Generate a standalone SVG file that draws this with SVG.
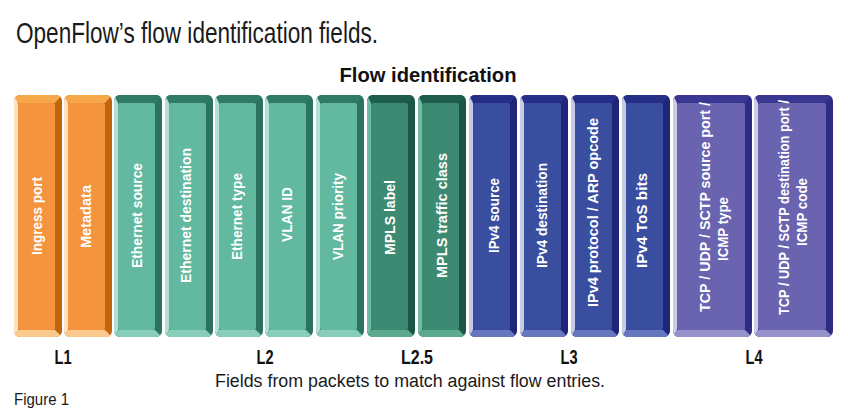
<svg xmlns="http://www.w3.org/2000/svg" width="848" height="418" viewBox="0 0 848 418">
<style>
text{font-family:"Liberation Sans",Arial,sans-serif}
.bt{fill:#fff;font-weight:bold;font-size:15px;text-anchor:middle}
.lv{fill:#111;font-weight:bold;font-size:20px;text-anchor:middle}
.orange .o{fill:#c1660f}.orange .t{fill:#f6a84b}.orange .l{fill:#fde2c2}.orange .b{fill:#fcca8c}.orange .f{fill:#f5943f}
.green .o{fill:#2c735f}.green .t{fill:#2f7b65}.green .l{fill:#b4e0d3}.green .b{fill:#88ceb9}.green .f{fill:#62b99f}
.dgreen .o{fill:#1a5545}.dgreen .t{fill:#1e5c4b}.dgreen .l{fill:#6cbba3}.dgreen .b{fill:#5ba98f}.dgreen .f{fill:#3c8a72}
.blue .o{fill:#1f2578}.blue .t{fill:#272e88}.blue .l{fill:#c6cae7}.blue .b{fill:#6677bf}.blue .f{fill:#3a4ea0}
.purple .o{fill:#2e2b85}.purple .t{fill:#3a3792}.purple .l{fill:#cdcbea}.purple .b{fill:#9791cc}.purple .f{fill:#6963b0}
</style>
<defs>
<clipPath id="cn"><rect x="0" y="95" width="48" height="242" rx="6"/></clipPath>
<clipPath id="cw"><rect x="0" y="95" width="79" height="242" rx="6"/></clipPath>
</defs>
<rect width="848" height="418" fill="#fff"/>
<text x="16" y="43" font-size="29" fill="#1a1a1a" textLength="362" lengthAdjust="spacingAndGlyphs">OpenFlow’s flow identification fields.</text>
<text x="428" y="82" font-size="20" font-weight="bold" fill="#111" text-anchor="middle" textLength="177" lengthAdjust="spacingAndGlyphs">Flow identification</text>

<g id="ingress-port" class="orange"><g transform="translate(14,0)" clip-path="url(#cn)"><rect class="o" y="95" width="48" height="242"/><polygon class="t" points="0,95 48,95 41,103 4,103"/><polygon class="l" points="0,95 4,103 4,330 0,337"/><polygon class="b" points="0,337 4,330 41,330 48,337"/><rect class="f" x="4" y="103" width="37" height="227" rx="2"/></g>
<text class="bt" transform="translate(37,216) rotate(-90)" y="5" textLength="78" lengthAdjust="spacingAndGlyphs">Ingress port</text></g>
<g id="metadata" class="orange"><g transform="translate(64,0)" clip-path="url(#cn)"><rect class="o" y="95" width="48" height="242"/><polygon class="t" points="0,95 48,95 41,103 4,103"/><polygon class="l" points="0,95 4,103 4,330 0,337"/><polygon class="b" points="0,337 4,330 41,330 48,337"/><rect class="f" x="4" y="103" width="37" height="227" rx="2"/></g>
<text class="bt" transform="translate(86,216.5) rotate(-90)" y="5" textLength="63" lengthAdjust="spacingAndGlyphs">Metadata</text></g>
<g id="ethernet-source" class="green"><g transform="translate(114,0)" clip-path="url(#cn)"><rect class="o" y="95" width="48" height="242"/><polygon class="t" points="0,95 48,95 41,103 4,103"/><polygon class="l" points="0,95 4,103 4,330 0,337"/><polygon class="b" points="0,337 4,330 41,330 48,337"/><rect class="f" x="4" y="103" width="37" height="227" rx="2"/></g>
<text class="bt" transform="translate(137,215.5) rotate(-90)" y="5" textLength="105" lengthAdjust="spacingAndGlyphs">Ethernet source</text></g>
<g id="ethernet-destination" class="green"><g transform="translate(165,0)" clip-path="url(#cn)"><rect class="o" y="95" width="48" height="242"/><polygon class="t" points="0,95 48,95 41,103 4,103"/><polygon class="l" points="0,95 4,103 4,330 0,337"/><polygon class="b" points="0,337 4,330 41,330 48,337"/><rect class="f" x="4" y="103" width="37" height="227" rx="2"/></g>
<text class="bt" transform="translate(186,215.5) rotate(-90)" y="5" textLength="135" lengthAdjust="spacingAndGlyphs">Ethernet destination</text></g>
<g id="ethernet-type" class="green"><g transform="translate(215,0)" clip-path="url(#cn)"><rect class="o" y="95" width="48" height="242"/><polygon class="t" points="0,95 48,95 41,103 4,103"/><polygon class="l" points="0,95 4,103 4,330 0,337"/><polygon class="b" points="0,337 4,330 41,330 48,337"/><rect class="f" x="4" y="103" width="37" height="227" rx="2"/></g>
<text class="bt" transform="translate(237,216.5) rotate(-90)" y="5" textLength="87" lengthAdjust="spacingAndGlyphs">Ethernet type</text></g>
<g id="vlan-id" class="green"><g transform="translate(265,0)" clip-path="url(#cn)"><rect class="o" y="95" width="48" height="242"/><polygon class="t" points="0,95 48,95 41,103 4,103"/><polygon class="l" points="0,95 4,103 4,330 0,337"/><polygon class="b" points="0,337 4,330 41,330 48,337"/><rect class="f" x="4" y="103" width="37" height="227" rx="2"/></g>
<text class="bt" transform="translate(287,214.5) rotate(-90)" y="5" textLength="55" lengthAdjust="spacingAndGlyphs">VLAN ID</text></g>
<g id="vlan-priority" class="green"><g transform="translate(316,0)" clip-path="url(#cn)"><rect class="o" y="95" width="48" height="242"/><polygon class="t" points="0,95 48,95 41,103 4,103"/><polygon class="l" points="0,95 4,103 4,330 0,337"/><polygon class="b" points="0,337 4,330 41,330 48,337"/><rect class="f" x="4" y="103" width="37" height="227" rx="2"/></g>
<text class="bt" transform="translate(338,216.5) rotate(-90)" y="5" textLength="87" lengthAdjust="spacingAndGlyphs">VLAN priority</text></g>
<g id="mpls-label" class="dgreen"><g transform="translate(367,0)" clip-path="url(#cn)"><rect class="o" y="95" width="48" height="242"/><polygon class="t" points="0,95 48,95 41,103 4,103"/><polygon class="l" points="0,95 4,103 4,330 0,337"/><polygon class="b" points="0,337 4,330 41,330 48,337"/><rect class="f" x="4" y="103" width="37" height="227" rx="2"/></g>
<text class="bt" transform="translate(390,217.5) rotate(-90)" y="5" textLength="75" lengthAdjust="spacingAndGlyphs">MPLS label</text></g>
<g id="mpls-traffic-class" class="dgreen"><g transform="translate(418,0)" clip-path="url(#cn)"><rect class="o" y="95" width="48" height="242"/><polygon class="t" points="0,95 48,95 41,103 4,103"/><polygon class="l" points="0,95 4,103 4,330 0,337"/><polygon class="b" points="0,337 4,330 41,330 48,337"/><rect class="f" x="4" y="103" width="37" height="227" rx="2"/></g>
<text class="bt" transform="translate(442,215.5) rotate(-90)" y="5" textLength="125" lengthAdjust="spacingAndGlyphs">MPLS traffic class</text></g>
<g id="ipv4-source" class="blue"><g transform="translate(469,0)" clip-path="url(#cn)"><rect class="o" y="95" width="48" height="242"/><polygon class="t" points="0,95 48,95 41,103 4,103"/><polygon class="l" points="0,95 4,103 4,330 0,337"/><polygon class="b" points="0,337 4,330 41,330 48,337"/><rect class="f" x="4" y="103" width="37" height="227" rx="2"/></g>
<text class="bt" transform="translate(494,215.5) rotate(-90)" y="5" textLength="75" lengthAdjust="spacingAndGlyphs">IPv4 source</text></g>
<g id="ipv4-destination" class="blue"><g transform="translate(520,0)" clip-path="url(#cn)"><rect class="o" y="95" width="48" height="242"/><polygon class="t" points="0,95 48,95 41,103 4,103"/><polygon class="l" points="0,95 4,103 4,330 0,337"/><polygon class="b" points="0,337 4,330 41,330 48,337"/><rect class="f" x="4" y="103" width="37" height="227" rx="2"/></g>
<text class="bt" transform="translate(542,215.5) rotate(-90)" y="5" textLength="105" lengthAdjust="spacingAndGlyphs">IPv4 destination</text></g>
<g id="ipv4-protocol" class="blue"><g transform="translate(571,0)" clip-path="url(#cn)"><rect class="o" y="95" width="48" height="242"/><polygon class="t" points="0,95 48,95 41,103 4,103"/><polygon class="l" points="0,95 4,103 4,330 0,337"/><polygon class="b" points="0,337 4,330 41,330 48,337"/><rect class="f" x="4" y="103" width="37" height="227" rx="2"/></g>
<text class="bt" transform="translate(593,212.5) rotate(-90)" y="5" textLength="189" lengthAdjust="spacingAndGlyphs">IPv4 protocol / ARP opcode</text></g>
<g id="ipv4-tos" class="blue"><g transform="translate(622,0)" clip-path="url(#cn)"><rect class="o" y="95" width="48" height="242"/><polygon class="t" points="0,95 48,95 41,103 4,103"/><polygon class="l" points="0,95 4,103 4,330 0,337"/><polygon class="b" points="0,337 4,330 41,330 48,337"/><rect class="f" x="4" y="103" width="37" height="227" rx="2"/></g>
<text class="bt" transform="translate(642,220.5) rotate(-90)" y="5" textLength="95" lengthAdjust="spacingAndGlyphs">IPv4 ToS bits</text></g>
<g id="l4-source" class="purple"><g transform="translate(673,0)" clip-path="url(#cw)"><rect class="o" y="95" width="79" height="242"/><polygon class="t" points="0,95 79,95 72,103 4,103"/><polygon class="l" points="0,95 4,103 4,330 0,337"/><polygon class="b" points="0,337 4,330 72,330 79,337"/><rect class="f" x="4" y="103" width="68" height="227" rx="2"/></g>
<text class="bt" transform="translate(705,207) rotate(-90)" y="5" textLength="210" lengthAdjust="spacingAndGlyphs">TCP / UDP / SCTP source port /</text>
<text class="bt" transform="translate(723,229) rotate(-90)" y="5" textLength="64" lengthAdjust="spacingAndGlyphs">ICMP type</text></g>
<g id="l4-destination" class="purple"><g transform="translate(754,0)" clip-path="url(#cw)"><rect class="o" y="95" width="79" height="242"/><polygon class="t" points="0,95 79,95 72,103 4,103"/><polygon class="l" points="0,95 4,103 4,330 0,337"/><polygon class="b" points="0,337 4,330 72,330 79,337"/><rect class="f" x="4" y="103" width="68" height="227" rx="2"/></g>
<text class="bt" transform="translate(784,207.5) rotate(-90)" y="5" textLength="215" lengthAdjust="spacingAndGlyphs">TCP / UDP / SCTP destination port /</text>
<text class="bt" transform="translate(802,212) rotate(-90)" y="5" textLength="68" lengthAdjust="spacingAndGlyphs">ICMP code</text></g>

<g id="levels">
<text class="lv" x="63" y="364" textLength="17" lengthAdjust="spacingAndGlyphs">L1</text>
<text class="lv" x="265" y="364" textLength="17" lengthAdjust="spacingAndGlyphs">L2</text>
<text class="lv" x="417" y="364" textLength="32" lengthAdjust="spacingAndGlyphs">L2.5</text>
<text class="lv" x="569" y="364" textLength="17" lengthAdjust="spacingAndGlyphs">L3</text>
<text class="lv" x="754" y="364" textLength="17" lengthAdjust="spacingAndGlyphs">L4</text>
</g>
<text x="410" y="387" font-size="18" fill="#1a1a1a" text-anchor="middle" textLength="390" lengthAdjust="spacingAndGlyphs">Fields from packets to match against flow entries.</text>
<text x="14" y="405" font-size="16" fill="#1a1a1a" textLength="55" lengthAdjust="spacingAndGlyphs">Figure 1</text>
</svg>
